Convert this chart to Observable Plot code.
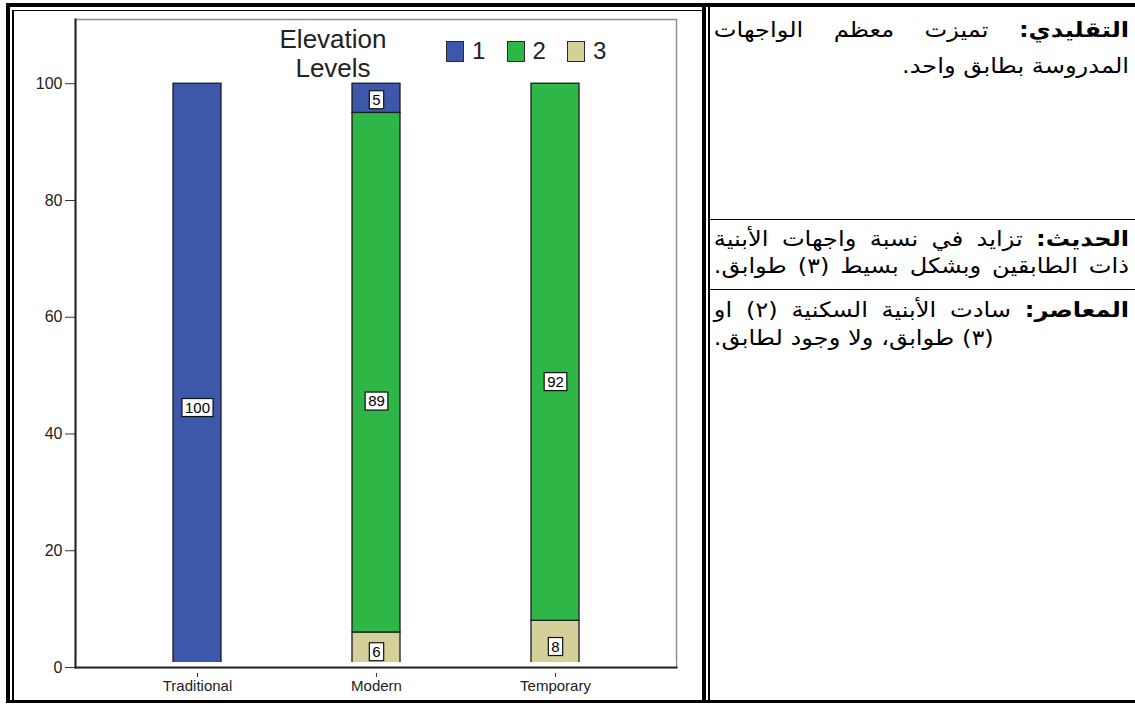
<!DOCTYPE html>
<html>
<head>
<meta charset="utf-8">
<script src="https://cdn.jsdelivr.net/npm/d3@7"></script>
<script src="https://cdn.jsdelivr.net/npm/@observablehq/plot@0.6"></script>
<style>
  html, body { margin: 0; padding: 0; background: #fff; }
  body { width: 1135px; height: 704px; overflow: hidden; position: relative; font-family: "Liberation Sans", Arial, sans-serif; }
  .b { position: absolute; background: #000; }
  #chart { position: absolute; left: 14px; top: 11px; }
  #legtitle { position: absolute; left: 262px; top: 25px; width: 142px; text-align: center; font-size: 26px; line-height: 29px; color: #222; }
  .legitem { position: absolute; top: 40px; height: 22px; display: flex; align-items: center; }
  .sw { width: 16px; height: 19px; border: 1.5px solid #2a2a2a; box-sizing: content-box; }
  .lt { font-size: 24px; color: #222; margin-left: 8px; line-height: 22px; }
  .cell { position: absolute; left: 768px; width: 361px; direction: rtl; font-family: "DejaVu Sans", sans-serif; font-size: 21px; color: #000;
          transform: scaleX(1.15); transform-origin: right top; }
  .ln { text-align: justify; text-align-last: justify; }
  .last { text-align: right; text-align-last: right; }
  .lastl { text-align: left; text-align-last: left; }
</style>
</head>
<body>
<!-- table borders -->
<div class="b" style="left:6px;top:3px;width:1129px;height:4px"></div>
<div class="b" style="left:6px;top:3px;width:4px;height:700px"></div>
<div class="b" style="left:12px;top:10px;width:2px;height:690px"></div>
<div class="b" style="left:12px;top:10px;width:690px;height:1px"></div>
<div class="b" style="left:702px;top:3px;width:4px;height:700px"></div>
<div class="b" style="left:708px;top:6px;width:2px;height:697px"></div>
<div class="b" style="left:6px;top:700px;width:1129px;height:3px"></div>
<div class="b" style="left:710px;top:219px;width:425px;height:1px"></div>
<div class="b" style="left:710px;top:289px;width:425px;height:1px"></div>

<div id="chart"></div>
<div id="legtitle"></div>
<div id="legend"></div>

<div class="cell" id="c1" style="top:12px;line-height:36px"></div>
<div class="cell" id="c2" style="top:226px;line-height:27px"></div>
<div class="cell" id="c3" style="top:296px;line-height:28px"></div>

<script>
// ---- data ----
const categories = ["Traditional", "Modern", "Temporary"];
const levels = [1, 2, 3];
const traditional = [100, 0, 0];
const modern = [5, 89, 6];
const temporary = [0, 92, 8];
const yTicks = [0, 20, 40, 60, 80, 100];
const colors = ["#3d57ab", "#2eb647", "#d5cf9a"];
const legendTitle = ["Elevation", "Levels"];

const notes = [
  {head: "التقليدي:", lines: [" تميزت معظم الواجهات", "المدروسة بطابق واحد."], lastClass: "last"},
  {head: "الحديث:", lines: [" تزايد في نسبة واجهات الأبنية", "ذات الطابقين وبشكل بسيط (٣) طوابق."], lastClass: "ln"},
  {head: "المعاصر:", lines: [" سادت الأبنية السكنية (٢) او", "(٣) طوابق، ولا وجود لطابق."], lastClass: "lastl"}
];

// ---- build tables ----
const series = [traditional, modern, temporary];
const stackOrder = [3, 2, 1];
const labelFrac = 0.445; // where SPSS put the boxed label inside each segment
const data = [];
const labelData = [];
categories.forEach((c, i) => {
  let base = 0;
  stackOrder.forEach(l => {
    const v = series[i][l - 1];
    if (v > 0) {
      data.push({category: c, level: l, value: v});
      labelData.push({category: c, level: l, value: v, pos: base + v * labelFrac});
      base += v;
    }
  });
});

const plot = Plot.plot({
  width: 688,
  height: 688,
  marginLeft: 61,
  marginRight: 26,
  marginTop: 8,
  marginBottom: 32,
  style: {fontFamily: "Liberation Sans, Arial, sans-serif", fontSize: "15px", color: "#222", background: "transparent"},
  x: {domain: categories, paddingInner: 0.733, paddingOuter: 0.536, label: null},
  y: {domain: [0, 111], label: null},
  color: {domain: levels, range: colors},
  marks: [
    Plot.frame({stroke: "#8c8c8c", strokeWidth: 1.5}),
    Plot.barY(data, Plot.stackY({x: "category", y: "value", z: "level", order: stackOrder, fill: "level", stroke: "#1c1c1c", strokeWidth: 1.3})),
    Plot.ruleY([0], {stroke: "white", strokeWidth: 5, dy: -3}),
    Plot.text(labelData, {x: "category", y: "pos", text: "value", fill: "#000", fontSize: 15, className: "vlabel"}),
    Plot.frame({anchor: "left", stroke: "#222", strokeWidth: 2}),
    Plot.frame({anchor: "bottom", stroke: "#222", strokeWidth: 2}),
    Plot.axisY({ticks: yTicks, tickSize: 10, tickPadding: 3, fontSize: 16, stroke: "#333"}),
    Plot.axisX({tickSize: 4, dy: 6, tickPadding: 3, fontSize: 15, stroke: "#333"})
  ]
});
document.getElementById("chart").append(plot);

// boxed value labels
plot.querySelectorAll("g.vlabel text").forEach(t => {
  const bb = t.getBBox();
  const r = document.createElementNS("http://www.w3.org/2000/svg", "rect");
  r.setAttribute("x", bb.x - 3);
  r.setAttribute("y", bb.y);
  r.setAttribute("width", bb.width + 6);
  r.setAttribute("height", bb.height + 1);
  r.setAttribute("fill", "white");
  r.setAttribute("stroke", "#111");
  r.setAttribute("stroke-width", 1.2);
  if (t.getAttribute("transform")) r.setAttribute("transform", t.getAttribute("transform"));
  t.parentNode.insertBefore(r, t);
});

// legend
document.getElementById("legtitle").innerHTML = legendTitle.join("<br>");
const leg = document.getElementById("legend");
levels.forEach((l, i) => {
  const it = document.createElement("div");
  it.className = "legitem";
  it.style.left = (446 + i * 60.5) + "px";
  it.innerHTML = `<div class="sw" style="background:${colors[i]}"></div><span class="lt">${l}</span>`;
  leg.append(it);
});

// notes
notes.forEach((n, i) => {
  const c = document.getElementById("c" + (i + 1));
  c.innerHTML = n.lines.map((ln, k) => {
    const cls = k < n.lines.length - 1 ? "ln" : n.lastClass;
    return `<div class="${cls}">${k === 0 ? "<b>" + n.head + "</b>" : ""}${ln}</div>`;
  }).join("");
});
</script>
</body>
</html>
